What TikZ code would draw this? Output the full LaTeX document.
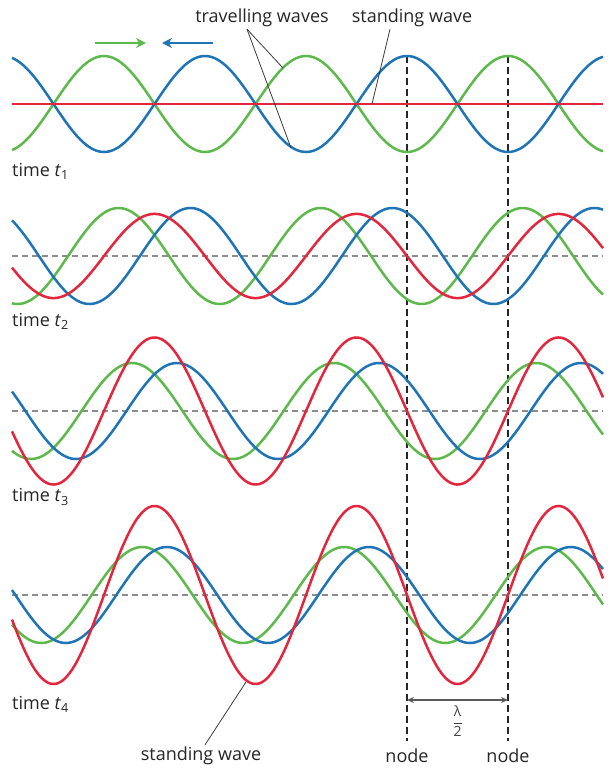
\documentclass[tikz,border=0pt]{standalone}
\usepackage{fontspec}
\setmainfont{Open Sans}
\usetikzlibrary{arrows.meta,positioning,calc}
\definecolor{WaveBlue}{HTML}{1F74B5}
\definecolor{WaveGreen}{HTML}{5DB94B}
\definecolor{WaveRed}{HTML}{E3263D}
\definecolor{Axis}{HTML}{8C8C8C}
\definecolor{Lead}{HTML}{3A3A3A}

\begin{document}
\begin{tikzpicture}[x=1pt,y=-1pt,>=Stealth,
  wave/.style={line width=2.5pt,samples=240,domain=12:603,smooth},
  axisline/.style={Axis,line width=1.4pt,dash pattern=on 6pt off 4pt},
  nodeline/.style={black!85,line width=1.6pt,dash pattern=on 7pt off 4pt},
  leader/.style={Lead,line width=0.8pt},
  lbl/.style={font=\fontsize{18}{20}\selectfont,text=black!85,inner sep=0pt},
  timelbl/.style={lbl,anchor=west}]
\useasboundingbox (0,0) rectangle (611,769);
% direction arrows
\draw[->,WaveGreen,line width=2.6pt,-{Stealth[length=10pt,width=10pt]}] (95,43) -- (146,43);
\draw[->,WaveBlue,line width=2.6pt,-{Stealth[length=10pt,width=10pt]}] (213,43) -- (162,43);
% nodes of the standing wave
\coordinate (n1top) at (407,56);
\coordinate (n1bot) at (407,741);
\coordinate (n2top) at (508,56);
\coordinate (n2bot) at (508,741);
\draw[nodeline] (n1top) -- (n1bot);
\draw[nodeline] (n2top) -- (n2bot);
% time t1
\draw[WaveGreen,wave] plot (\x,{104+48*cos(1.7822*(\x-407))});
\draw[WaveBlue,wave] plot (\x,{104-48*cos(1.7822*(\x-407))});
\draw[WaveRed,line width=2.0pt] (12,104) -- (603,104);
\node[timelbl] (t1) at (12,171) {time \textit{t}\textsubscript{1}};
% time t2
\draw[axisline] (12,256) -- (603,256);
\draw[WaveGreen,wave] plot (\x,{256+48*cos(1.7822*(\x-407)-26)});
\draw[WaveBlue,wave] plot (\x,{256-48*cos(1.7822*(\x-407)+26)});
\draw[WaveRed,wave] plot (\x,{256+96*sin(26)*sin(1.7822*(\x-407))});
\node[timelbl] (t2) at (12,321) {time \textit{t}\textsubscript{2}};
% time t3
\draw[axisline] (12,411) -- (603,411);
\draw[WaveGreen,wave] plot (\x,{411+48*cos(1.7822*(\x-407)-50)});
\draw[WaveBlue,wave] plot (\x,{411-48*cos(1.7822*(\x-407)+50)});
\draw[WaveRed,wave] plot (\x,{411+96*sin(50)*sin(1.7822*(\x-407))});
\node[timelbl] (t3) at (12,497) {time \textit{t}\textsubscript{3}};
% time t4
\draw[axisline] (12,595) -- (603,595);
\draw[WaveGreen,wave] plot (\x,{595+48*cos(1.7822*(\x-407)-68)});
\draw[WaveBlue,wave] plot (\x,{595-48*cos(1.7822*(\x-407)+68)});
\draw[WaveRed,wave] plot (\x,{595+96*sin(68)*sin(1.7822*(\x-407))});
\node[timelbl] (t4) at (12,704) {time \textit{t}\textsubscript{4}};
% labels and leaders
\node[lbl] (travel) at (262,18) {travelling waves};
\node[lbl] (stand) at (412,18) {standing wave};
\coordinate (onGreen) at (283,68);
\coordinate (onBlue) at (291,148);
\coordinate (onRed) at (372,104);
\coordinate (onTrough) at (246,682);
\draw[leader] ($(travel.south)+(-15,2)$) -- (onGreen);
\draw[leader] ($(travel.south)+(-15,2)$) -- (onBlue);
\draw[leader] ($(stand.south)+(-22,2)$) -- (onRed);
\node[lbl] (standlow) at (201,756) {standing wave};
\draw[leader] ($(standlow.north)+(4,-2)$) -- (onTrough);
\node[lbl] (node1) at (407,756) {node};
\node[lbl] (node2) at (508,756) {node};
% half wavelength
\coordinate (hl) at (407,700);
\coordinate (hr) at (508,700);
\draw[<->,black!65,line width=1.3pt,{Stealth[length=7pt,width=6pt]}-{Stealth[length=7pt,width=6pt]}] (hl) -- (hr);
\node[font=\fontsize{14}{16}\selectfont,text=black!75,inner sep=0pt,below=6pt of $(hl)!0.5!(hr)$] (half) {$\displaystyle\frac{\mbox{λ}}{\mbox{2}}$};
\end{tikzpicture}
\end{document}
